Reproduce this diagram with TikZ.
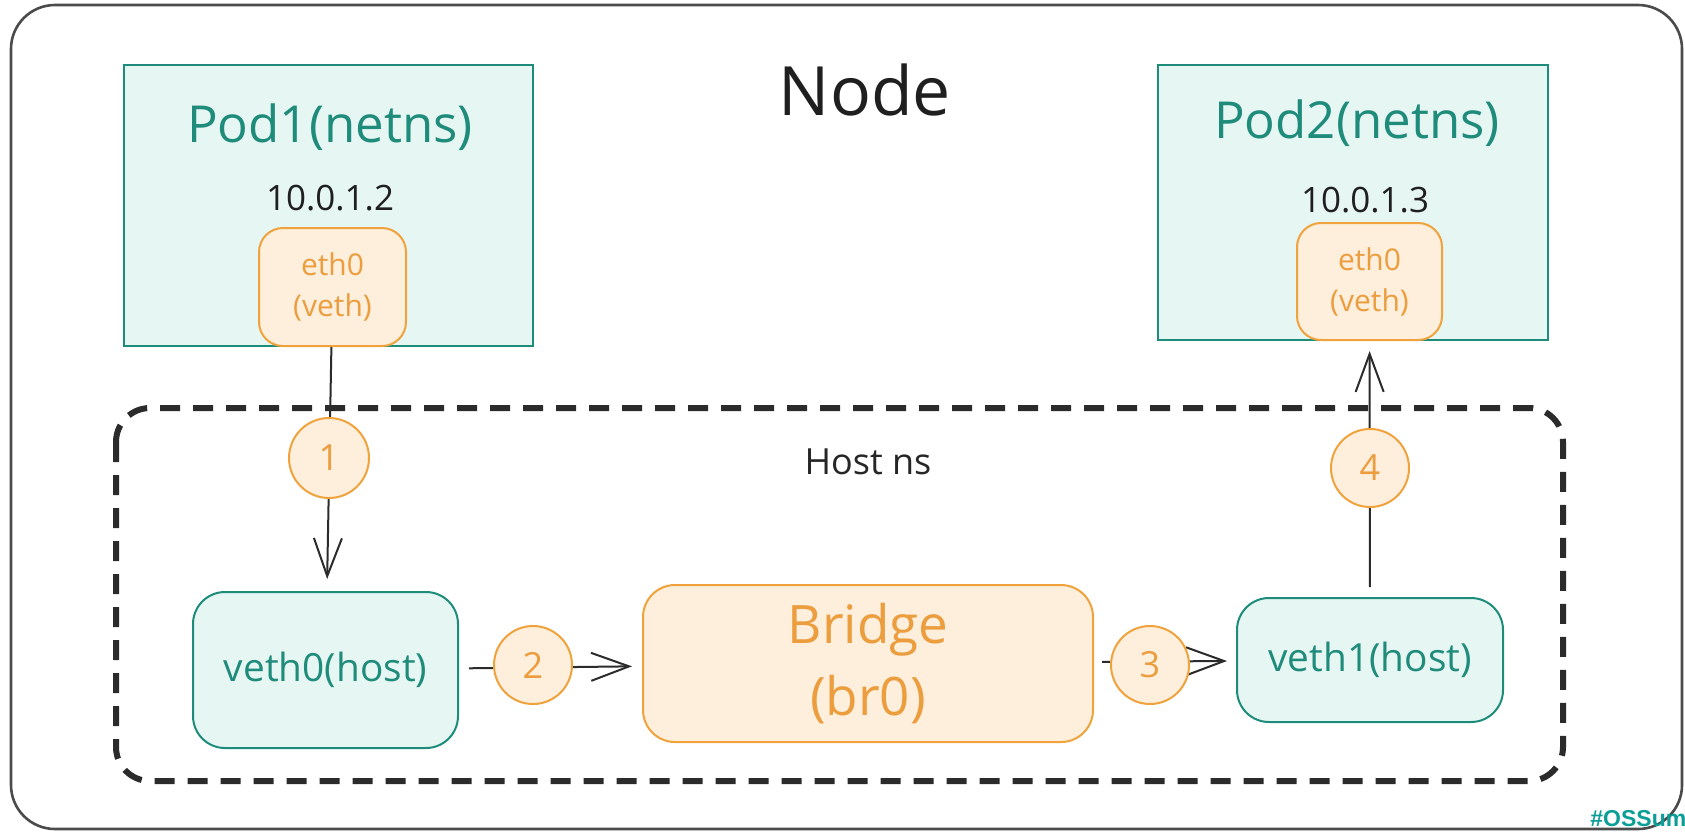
\documentclass[tikz,border=0pt]{standalone}
\usepackage{fontspec}
\setmainfont{Open Sans}
\newfontfamily\tagfont{Liberation Sans}
\usetikzlibrary{arrows.meta}

\definecolor{tealline}{HTML}{1E8C7A}
\definecolor{tealfill}{HTML}{E6F6F3}
\definecolor{tealtext}{HTML}{1F8C7B}
\definecolor{orangeline}{HTML}{F0A23C}
\definecolor{orangefill}{HTML}{FDEFDC}
\definecolor{orangetext}{HTML}{EC9D3E}
\definecolor{inkdark}{HTML}{2B2B2B}
\definecolor{tagteal}{HTML}{0A9E96}

\tikzset{
  podbox/.style={draw=tealline, fill=tealfill, line width=1.1pt, inner sep=0pt},
  ifbox/.style={draw=orangeline, fill=orangefill, line width=1pt, rounded corners=12pt,
    inner sep=0pt, align=center, text=orangetext, font=\fontsize{15}{20.5}\selectfont},
  hostbox/.style={draw=tealline, fill=tealfill, line width=1pt, rounded corners=16pt,
    inner sep=0pt, text=tealtext, font=\fontsize{19.4}{23}\selectfont},
  bridgebox/.style={draw=orangeline, fill=orangefill, line width=1pt, rounded corners=16pt,
    inner sep=0pt, align=center, text=orangetext, font=\fontsize{26.5}{36}\selectfont},
  stepmark/.style={circle, draw=orangeline, fill=orangefill, line width=1pt,
    minimum size=39pt, inner sep=0pt, text=orangetext, font=\fontsize{18}{20}\selectfont},
  flow/.style={draw=inkdark, line width=1pt, -{Straight Barb[length=19pt,width=14pt,line width=1pt]}},
  podtitle/.style={text=tealtext, font=\fontsize{25.5}{30}\selectfont},
  iplabel/.style={text=black!88, font=\fontsize{17.5}{21}\selectfont},
}

\begin{document}
\begin{tikzpicture}[x=0.5pt, y=-0.5pt]
  \useasboundingbox (0,0) rectangle (1685,832);

  % outer frame of the node
  \draw[draw=inkdark!85, line width=1.3pt, rounded corners=22pt] (11,5) rectangle (1682,829);
  \node[font=\fontsize{34}{40}\selectfont, text=black!88] (nodetitle) at (865,90) {Node};

  % host network namespace
  \draw[draw=inkdark, line width=3pt, dash pattern=on 10pt off 6.5pt, rounded corners=17pt]
    (116,408) rectangle (1563,781);
  \node[font=\fontsize{18}{21}\selectfont, text=black!85] (hostns) at (868,462) {Host ns};

  % pods
  \node[podbox, minimum width=204.5pt, minimum height=140.5pt] (pod1) at (328.5,205.5) {};
  \node[podbox, minimum width=195pt, minimum height=137.5pt] (pod2) at (1353,202.5) {};
  \node[podtitle] (pod1t) at (330,127) {Pod1(netns)};
  \node[podtitle] (pod2t) at (1357,123) {Pod2(netns)};
  \node[iplabel] (ip1) at (330,198) {10.0.1.2};
  \node[iplabel] (ip2) at (1365,200) {10.0.1.3};
  \node[ifbox, minimum width=73.5pt, minimum height=59pt] (eth0a) at (332.5,287) {eth0\\(veth)};
  \node[ifbox, minimum width=72.5pt, minimum height=58.5pt] (eth0b) at (1369.5,281.5) {eth0\\(veth)};

  % host side devices
  \node[hostbox, minimum width=132.5pt, minimum height=78pt] (veth0) at (325.5,670) {veth0(host)};
  \node[bridgebox, minimum width=225pt, minimum height=78.5pt] (bridge) at (868,663.5) {Bridge\\(br0)};
  \node[hostbox, minimum width=133pt, minimum height=62pt] (veth1) at (1370,660) {veth1(host)};

  % packet path
  \draw[flow, shorten >=6pt] (eth0a) -- (veth0);
  \draw[flow, shorten <=5pt, shorten >=5pt] (veth0) -- (bridge);
  \draw[flow, shorten <=4pt, shorten >=4.5pt] (bridge) -- (veth1);
  \draw[flow, shorten <=5pt, shorten >=5pt] (veth1) -- (eth0b);

  % step markers
  \node[stepmark, minimum size=40pt] (s1) at (329,458) {1};
  \node[stepmark] (s2) at (533,665) {2};
  \node[stepmark] (s3) at (1150,665) {3};
  \node[stepmark] (s4) at (1370,468) {4};

  % event tag
  \node[anchor=base west, inner sep=0pt, text=tagteal, font=\tagfont\bfseries\fontsize{11.5}{13}\selectfont]
    (tag) at (1590,826) {\#OSSum};
\end{tikzpicture}
\end{document}
